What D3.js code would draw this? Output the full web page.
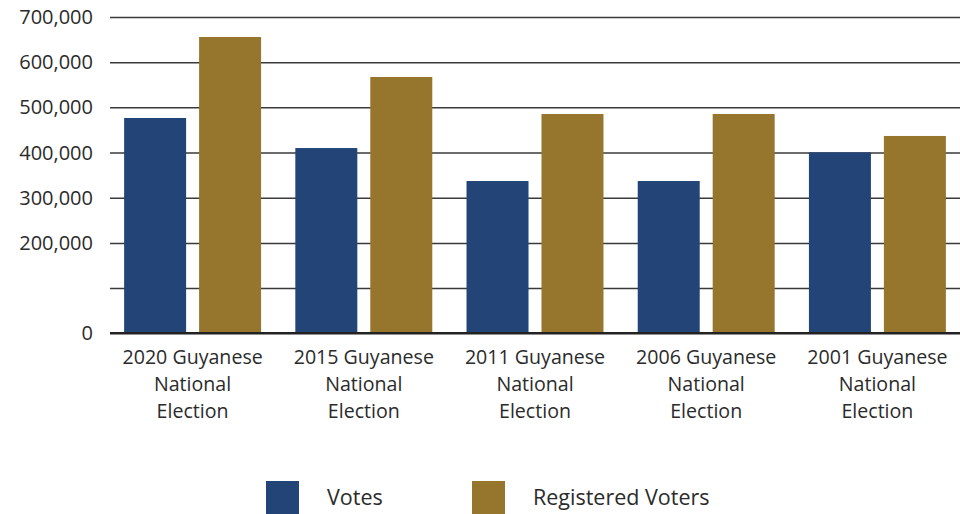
<!DOCTYPE html>
<html lang="en">
<head>
	<meta charset="UTF-8">
	<title>Guyanese National Elections</title>
	<style>
		body { margin: 0; background: #fff; }
		text { font-family: "Open Sans", "Noto Sans", sans-serif; fill: #2b2b2b; }
		.grid line { stroke: #3a3a3a; stroke-width: 1.5px; }
		.grid path { display: none; }
	</style>
	<script src="https://cdn.jsdelivr.net/npm/d3@7/dist/d3.min.js"></script>
</head>
<body>
<script>
	var elections = ["2020 Guyanese National Election", "2015 Guyanese National Election",
		"2011 Guyanese National Election", "2006 Guyanese National Election", "2001 Guyanese National Election"];
	var votes = [476500, 410000, 337000, 337000, 400500];
	var registered = [655700, 567200, 485300, 485300, 436700];
	var seriesNames = ["Votes", "Registered Voters"];
	var colors = ["#224477", "#96752d"];
	var yTicks = [0, 100000, 200000, 300000, 400000, 500000, 600000, 700000];
	var yLabels = ["0", "", "200,000", "300,000", "400,000", "500,000", "600,000", "700,000"];

	var width = 960, height = 514;
	var svg = d3.select("body").append("svg")
		.attr("width", width)
		.attr("height", height);

	var y = d3.scaleLinear().domain([0, 700000]).range([333.3, 17]);
	var x0 = d3.scaleBand().domain(elections).range([107, 963]).paddingInner(0.2).paddingOuter(0.1);
	var x1 = d3.scaleBand().domain(seriesNames).range([0, x0.bandwidth()]).paddingInner(0.173);

	// gridlines
	svg.append("g")
		.attr("class", "grid")
		.attr("transform", "translate(110,0)")
		.call(d3.axisLeft(y).tickValues(yTicks.slice(1)).tickSize(-850).tickFormat(""));

	// y labels
	svg.append("g").selectAll("text")
		.data(yTicks)
		.enter().append("text")
		.attr("x", 93)
		.attr("y", function(d) { return y(d); })
		.attr("dy", "0.35em")
		.attr("text-anchor", "end")
		.style("font-size", "20px")
		.text(function(d, i) { return yLabels[i]; });

	var data = elections.map(function(e, i) { return {name: e, values: [votes[i], registered[i]]}; });

	var group = svg.selectAll(".group")
		.data(data)
		.enter().append("g")
		.attr("class", "group")
		.attr("transform", function(d) { return "translate(" + x0(d.name) + ",0)"; });

	group.selectAll("rect")
		.data(function(d) { return d.values.map(function(v, i) { return {key: seriesNames[i], value: v, i: i}; }); })
		.enter().append("rect")
		.attr("x", function(d) { return x1(d.key); })
		.attr("width", x1.bandwidth())
		.attr("y", function(d) { return y(d.value); })
		.attr("height", function(d) { return y(0) - y(d.value); })
		.attr("fill", function(d) { return colors[d.i]; });

	// baseline
	svg.append("line")
		.attr("x1", 110).attr("x2", 960)
		.attr("y1", y(0)).attr("y2", y(0))
		.attr("stroke", "#222").attr("stroke-width", 2.5);

	// x labels
	group.append("text")
		.attr("x", x0.bandwidth() / 2)
		.attr("text-anchor", "middle")
		.style("font-size", "19.6px")
		.selectAll("tspan")
		.data(function(d) {
			var w = d.name.split(" ");
			return [w[0] + " " + w[1], w[2], w[3]];
		})
		.enter().append("tspan")
		.attr("x", x0.bandwidth() / 2)
		.attr("y", function(d, i) { return 364 + i * 27; })
		.text(function(d) { return d; });

	// legend
	var legendX = [266, 472];
	var legend = svg.selectAll(".legend")
		.data(seriesNames)
		.enter().append("g")
		.attr("class", "legend")
		.attr("transform", function(d, i) { return "translate(" + legendX[i] + ",481)"; });

	legend.append("rect")
		.attr("width", 33)
		.attr("height", 33)
		.attr("fill", function(d, i) { return colors[i]; });

	legend.append("text")
		.attr("x", 61)
		.attr("y", 16.5)
		.attr("dy", "0.35em")
		.style("font-size", "21.5px")
		.text(function(d) { return d; });
</script>
</body>
</html>
